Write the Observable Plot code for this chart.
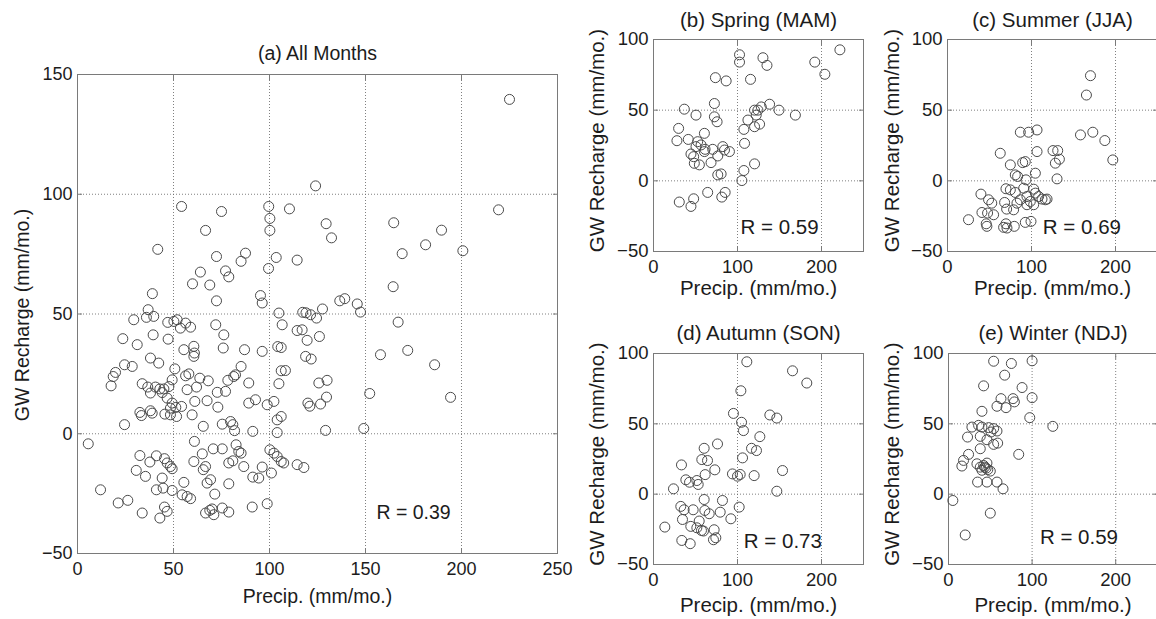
<!DOCTYPE html>
<html><head><meta charset="utf-8">
<script src="https://cdn.jsdelivr.net/npm/d3@7"></script>
<script src="https://cdn.jsdelivr.net/npm/@observablehq/plot@0.6"></script>
<style>
html,body{margin:0;padding:0;background:#fff;overflow:hidden;}
#root{position:relative;width:1156px;height:619px;overflow:hidden;background:#fff;}
#root svg{position:absolute;}
</style></head><body><div id="root"></div>
<script>
// ---- data: [precip (mm/mo.), GW recharge (mm/mo.)] ----
const allMonths = [
[124,103.5],[54.2,94.9],[75,92.8],[99.6,94.9],[110.4,93.9],[100.2,89.9],[100.2,84.9],[66.7,84.9],[41.8,77],[72.4,74],
[87.5,75.4],[85.2,72],[103.5,73.6],[114.4,72.5],[99.5,69],[77.1,68],[78.8,65.5],[64,67.5],[59.9,62.6],[68.9,62.1],
[39,58.5],[72.4,55.5],[95.3,57.7],[96.2,54.6],[36.8,51.8],[104.9,50.4],[117.3,50.7],[121.4,49.7],[29.3,47.6],[35.9,48.6],
[39.7,49],[225,139.6],[129.5,87.7],[132.3,81.8],[164.7,88.1],[169.1,75.2],[181.3,78.9],[189.6,85],[219.3,93.5],[200.7,76.4],
[164.4,61.4],[167,46.6],[136.6,55.5],[139.2,56.4],[145.7,54.2],[147.4,50.8],[127.6,52.1],[124.5,48.3],[119,50.5],
[157.8,33],[172,34.8],[186,28.8],[152.2,16.8],[194.3,15.2],[149.1,2.2],[129.2,1.4],[125.7,21.2],[130,22.3],[129.7,15.3],
[126.6,12.4],[120,12.8],[121,11.5],[117.9,-14.1],[126,40.6],[119.6,39],[117,43.4],[118.8,32.3],[121.7,31.2],
[47,46.5],[50.2,46.9],[51.9,47.6],[56.3,46.2],[58.9,44.5],[53.6,44.1],[72,45.5],[76.2,41.3],[75.9,35.8],[106.6,45.5],
[114.4,43.1],[104.3,36.4],[106.1,36],[96.2,34.4],[87,35.1],[106.1,26.3],[108.3,26.4],[104.9,20.9],[102.3,13.5],[98.8,12.1],
[104,5.8],[106.1,7.2],[104,0.5],[91.3,1],[92.7,14.2],[89.2,12.8],[89.2,21.2],[85.2,28.1],[82.3,24.6],[81.4,23.9],
[78.3,22.3],[77.1,17.7],[72.8,17.3],[73.1,11.1],[68.1,22.1],[63.7,23.2],[62,19.5],[61.1,13.5],[67.5,13.8],[54.2,11.4],
[51.2,11],[51.6,7.2],[48.4,10.7],[48.4,7.9],[45.5,8.2],[38.9,8.6],[38,9.6],[33.3,7.6],[32.5,8.9],[59.7,7.9],
[65.5,3.1],[75.4,4],[79.7,5.1],[80.9,3.8],[81.8,1.3],[24.5,3.8],[5.6,-4.2],[58,25],[57.1,18.4],[56.3,24.2],
[50.7,27.1],[49.3,22.5],[47.6,19.7],[46.7,14.9],[49.3,12.8],[42.9,18.7],[45,18.7],[44.1,17.2],[40.6,19.5],[38,17],
[36.6,19.5],[33.7,20.9],[42.3,29.5],[38,31.6],[28.5,28.1],[24.5,28.8],[19.8,25.6],[18.6,23.9],[17.5,20],[23.6,39.7],
[31.1,37.2],[39.4,41.3],[47.2,39.5],[55.4,35.1],[60.6,36.5],[60.9,33.7],[60.6,32.3],
[32.5,-9.1],[37.7,-11.8],[41.1,-9.2],[45.3,-10.4],[46.7,-12.2],[48.4,-13.7],[49.3,-14.6],[30.6,-15.3],[35.4,-17.8],[44.1,-18.5],
[41.1,-23.4],[44.6,-22.7],[49.3,-23.7],[55.4,-20.3],[54.5,-25.5],[57.1,-26.2],[58.9,-27.1],[60.6,-11.6],[65,-8.4],[65.5,-15],
[66.7,-13.7],[67.5,-20.6],[69.3,-19.2],[60.9,-3.2],[70.7,-6.3],[75.4,-6.3],[78.8,-12.2],[80.9,-11.3],[82.6,-4.6],[84,-7.4],
[85.2,-8.1],[86.6,-13.7],[78.8,-20.9],[71.5,-25.2],[91.3,-18.1],[94.4,-18.5],[96.2,-13.9],[100.2,-6.7],[102.3,-8.1],[101,-16.4],
[104,-9.5],[106.1,-11.6],[107.4,-12.2],[114.4,-12.9],[12,-23.4],[21.2,-28.9],[26.2,-27.8],[33.7,-33.1],[42.9,-35.2],[45.3,-30.6],
[46.7,-32.4],[66.7,-33.1],[68.9,-32],[70.1,-31.4],[71,-33.8],[75.4,-31],[78.8,-32.7],[91,-30.6],[98.8,-29.2]
];
const spring = [
[102.4,89.2],[102.4,84],[130.3,87.1],[135.1,81.7],[221.9,92.7],[192,84],[204,75.4],[73.7,73],[86.5,70.7],[115.5,71.8],
[138.2,54.2],[149.4,50],[168.9,46.5],[128.3,52.3],[124.3,50],[120.3,50],[112.4,43],[122.3,46.5],[126.3,40.1],[120.3,38.3],
[107.6,36.4],[108.4,26.5],[120.3,12],[107.6,7.3],[105.2,0.2],[72.5,54.7],[72.5,45.3],[75.7,41.8],[36.7,50.7],[50.6,46.5],
[29.9,37.1],[27.9,28.4],[41.4,29.3],[60.6,33.6],[52.6,27.7],[56.6,25.4],[61.4,22.3],[70.5,22.3],[76.5,17.6],[82.5,24.2],
[84.5,21.8],[90.4,20.7],[44.6,19],[47.8,17.1],[48.6,12.4],[54.6,11.3],[68.5,12.9],[60.6,20.7],[76.5,4.2],[80.5,4.9],
[64.5,-8.2],[85.3,-8.2],[81.3,-11.5],[30.7,-15],[47.8,-12.7],[44.6,-18.1],[50.6,24.2]
];
const summer = [
[170.2,74.4],[165.4,60.7],[158.3,32.5],[173,34.4],[187.3,28.5],[196.8,14.8],[86.7,34.4],[96.6,34.4],[106.6,36],[106.6,20.7],
[62.8,19.5],[74.8,11.3],[89.5,12.9],[92.6,13.6],[104.6,5.4],[80.7,4.2],[83.5,3.1],[93.4,0.7],[125.6,21.4],[131.2,21.4],
[128.4,12.5],[133.2,15.3],[130.4,1.4],[69.6,-5.6],[74.8,-6.4],[80.7,-8.2],[90.7,-5.2],[102.6,-5.9],[104.6,-8.7],[108.5,-11.1],
[112.5,-12.9],[98.6,-14.6],[94.6,-16.9],[102.6,-16.9],[118.5,-12.9],[116.5,-13.4],[86.7,-13.4],[39.8,-9.4],[48.9,-13.4],[52.7,-15.8],
[41,-22.4],[47.7,-22.8],[54.9,-24],[68,-15.3],[70.4,-20],[78.7,-20.5],[25,-27.5],[46.1,-30.4],[46.9,-32.2],[69.6,-30.4],
[66.8,-32.9],[70.8,-33.4],[79.5,-32.2],[92.6,-29.4],[99.4,-28.7],[82.7,-15.8],[94.6,-11.1]
];
const autumn = [
[111.1,94.1],[165.5,87.7],[182.5,79],[104,73.5],[95.2,57.4],[104.8,51.1],[107.1,45.2],[138.5,56.3],[146.8,54.1],[126.6,40.9],
[116.7,32.6],[122.6,31],[106,25.8],[119.8,13.2],[153.6,16.8],[146.8,2.1],[94,14.4],[100,12.8],[103.2,14],[102,-9.2],
[92.1,-17.5],[76.2,35.7],[60.3,32.6],[57.5,24.6],[64.3,23.9],[73,17.3],[61.5,13.9],[33.3,20.8],[38.5,10.2],[42.9,8.5],
[51.6,9.7],[53.2,6.9],[23.8,3.8],[60.3,-3.8],[82.1,-4.5],[32.5,-8.7],[36.5,-11.1],[47.2,-11.1],[61.1,-11.6],[66.3,-13.9],
[79.4,-12.8],[34.5,-18],[54.4,-19.1],[44.4,-22.9],[51.6,-23.9],[57.1,-25.8],[59.5,-26.2],[72.2,-25.3],[74.2,-31],[71.4,-32.4],
[13.5,-23.4],[33.7,-32.9],[43.7,-35.2]
];
const winter = [
[54,94.5],[75.2,92.9],[100,94.8],[67.2,84.6],[88,75.8],[42,77],[100,68.6],[62.8,67.9],[77.2,67.9],[78.8,65.6],
[58,62.5],[68.8,61.5],[97.2,54.4],[124.8,48.2],[40,58.9],[28,47.7],[36,48.9],[40,47.7],[48,47.3],[54,46.6],
[58,44.9],[50.8,44.2],[22.8,40.6],[38,41.1],[46,38.7],[58.8,36.3],[54,35.4],[38,32.3],[24,28.3],[18,24],
[16,20],[84,28.3],[34,21.6],[42,20.4],[46,22.1],[43.2,19.2],[38,19.2],[50,16.4],[40,17],[45,18.5],
[47,17.5],[34.8,8.6],[46,8.6],[58,8.6],[65.2,3.8],[5.2,-4.5],[50,-13.5],[20,-29]
];
const titles = ["(a) All Months", "(b) Spring (MAM)", "(c) Summer (JJA)", "(d) Autumn (SON)", "(e) Winter (NDJ)"];
const rValues = ["0.39", "0.59", "0.69", "0.73", "0.59"];
const rPos = [[175, -33], [150, -32.7], [160, -33.3], [154, -33.3], [156, -30.5]];
const bigXTicks = [0, 50, 100, 150, 200, 250];
const bigYTicks = [-50, 0, 50, 100, 150];
const smallXTicks = [0, 100, 200];
const smallYTicks = [-50, 0, 50, 100];
const xLabel = "Precip. (mm/mo.)";
const yLabel = "GW Recharge (mm/mo.)";

const FONT = "'Liberation Sans', Arial, Helvetica, sans-serif";
const root = document.getElementById("root");

function panel(o) {
  const chart = Plot.plot({
    width: o.width, height: o.height,
    marginTop: o.mt, marginRight: o.mr, marginBottom: o.mb, marginLeft: o.ml,
    style: {fontFamily: FONT, fontSize: "18px", color: "#1c1c1c", background: "transparent", overflow: "visible"},
    x: {domain: [0, 250]},
    y: {domain: o.yDomain},
    marks: [
      Plot.gridX(o.xTicks, {stroke: "#6a6a6a", strokeOpacity: 0.85, strokeDasharray: "1,2"}),
      Plot.gridY(o.yTicks, {stroke: "#6a6a6a", strokeOpacity: 0.85, strokeDasharray: "1,2"}),
      Plot.frame({stroke: "#7a7a7a"}),
      Plot.axisX(o.xTicks, {anchor: "bottom", tickSize: 0, tickPadding: o.xPad, label: null, fontSize: o.tickFs}),
      Plot.axisX(o.xTicks, {anchor: "bottom", tickSize: -5, tickFormat: () => "", label: null, stroke: "#7a7a7a"}),
      Plot.axisX(o.xTicks, {anchor: "top", tickSize: -5, tickFormat: () => "", label: null, stroke: "#7a7a7a"}),
      Plot.axisY(o.yTicks, {anchor: "left", tickSize: 0, tickPadding: 5, label: null, fontSize: o.tickFs}),
      Plot.axisY(o.yTicks, {anchor: "left", tickSize: -5, tickFormat: () => "", label: null, stroke: "#7a7a7a"}),
      Plot.axisY(o.yTicks, {anchor: "right", tickSize: -5, tickFormat: () => "", label: null, stroke: "#7a7a7a"}),
      Plot.dot(o.data, {x: d => d[0], y: d => d[1], r: 5, stroke: "#4a4a4a", strokeWidth: 1, fill: "none"}),
      Plot.text([o.r], {x: () => o.rPos[0], y: () => o.rPos[1], text: d => `R = ${d}`, fontSize: o.labFs, lineAnchor: "middle"}),
      Plot.text([o.title], {frameAnchor: "top", dy: o.titleDy, text: d => d, fontSize: o.labFs, textAnchor: "middle", lineAnchor: "middle"}),
      Plot.text([xLabel], {frameAnchor: "bottom", dy: o.xLabDy, text: d => d, fontSize: o.labFs, textAnchor: "middle", lineAnchor: "middle"}),
      Plot.text([yLabel], {frameAnchor: "left", dx: o.yLabDx, dy: o.yLabDy, rotate: -90, text: d => d, fontSize: o.labFs, textAnchor: "middle", lineAnchor: "middle"})
    ]
  });
  chart.style.left = o.left + "px";
  chart.style.top = o.top + "px";
  root.append(chart);
}

panel({data: allMonths, title: titles[0], r: rValues[0], rPos: rPos[0], xTicks: bigXTicks, yTicks: bigYTicks, yDomain: [-50, 150],
  left: 0, top: 0, width: 575, height: 619, mt: 74, mr: 18, mb: 66, ml: 77, xPad: 9, tickFs: 18, labFs: 19.5,
  titleDy: -21, xLabDy: 43, yLabDx: -54.5, yLabDy: 1});
panel({data: spring, title: titles[1], r: rValues[1], rPos: rPos[1], xTicks: smallXTicks, yTicks: smallYTicks, yDomain: [-50, 100],
  left: 580, top: 0, width: 290, height: 310, mt: 39, mr: 7, mb: 59, ml: 73, xPad: 8, tickFs: 18.5, labFs: 20.5,
  titleDy: -19, xLabDy: 37, yLabDx: -56, yLabDy: -5});
panel({data: summer, title: titles[2], r: rValues[2], rPos: rPos[2], xTicks: smallXTicks, yTicks: smallYTicks, yDomain: [-50, 100],
  left: 875, top: 0, width: 290, height: 310, mt: 39, mr: 8, mb: 59, ml: 72, xPad: 8, tickFs: 18.5, labFs: 20.5,
  titleDy: -19, xLabDy: 37, yLabDx: -55.5, yLabDy: -5});
panel({data: autumn, title: titles[3], r: rValues[3], rPos: rPos[3], xTicks: smallXTicks, yTicks: smallYTicks, yDomain: [-50, 100],
  left: 580, top: 310, width: 290, height: 309, mt: 43, mr: 7, mb: 55, ml: 73, xPad: 8, tickFs: 18.5, labFs: 20.5,
  titleDy: -20, xLabDy: 41, yLabDx: -56, yLabDy: -5});
panel({data: winter, title: titles[4], r: rValues[4], rPos: rPos[4], xTicks: smallXTicks, yTicks: smallYTicks, yDomain: [-50, 100],
  left: 875, top: 310, width: 290, height: 309, mt: 43, mr: 8, mb: 55, ml: 73, xPad: 8, tickFs: 18.5, labFs: 20.5,
  titleDy: -20, xLabDy: 41, yLabDx: -56, yLabDy: -5});
</script></body></html>
